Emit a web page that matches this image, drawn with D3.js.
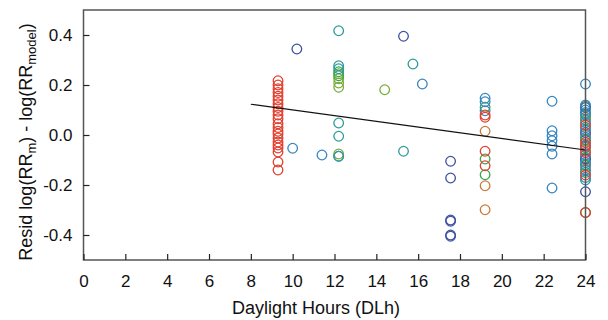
<!DOCTYPE html>
<html><head><meta charset="utf-8">
<script src="https://cdn.jsdelivr.net/npm/d3@7/dist/d3.min.js"></script>
<style>html,body{margin:0;padding:0;background:#fff;}svg{display:block;}</style>
</head><body>
<svg id="c" width="608" height="320"></svg>
<script>
// ---- data ----
const xTicks = [0,2,4,6,8,10,12,14,16,18,20,22,24];
const yTicks = [-0.4,-0.2,0.0,0.2,0.4];
const yTickLabels = ["-0.4","-0.2","0.0","0.2","0.4"];
const xDomain = [0,24];
const yDomain = [-0.5,0.5];

// series: day length (h) and residual
const redX = [9.3,9.3,9.3,9.3,9.3,9.3,9.3,9.3,9.3,9.3,9.3,9.3,9.3,9.3,9.3,9.3,9.3,9.3,9.3,9.3,9.3,9.3, 19.2,19.2,19.2,19.2, 24,24,24,24,24,24];
const redY = [0.217,0.20,0.185,0.17,0.155,0.14,0.125,0.11,0.095,0.08,0.065,0.045,0.03,0.015,0.004,-0.012,-0.028,-0.04,-0.052,-0.068,-0.108,-0.14, 0.08,0.071,-0.065,-0.123, 0.04,-0.03,-0.045,-0.07,-0.16,-0.31];
const blueX = [10.0,11.4,12.2,16.2,19.2,19.2,19.2,22.4,22.4,22.4,22.4,22.4,22.4,22.4,24,24,24,24,24,24,24,24,24,24,24,24];
const blueY = [-0.053,-0.08,-0.085,0.204,0.147,0.133,0.097,0.135,0.017,-0.003,-0.023,-0.045,-0.076,-0.212,0.204,0.12,0.10,0.08,0.05,0.02,-0.01,-0.04,-0.08,-0.11,-0.14,-0.17];
const navyX = [10.2,15.3,17.55,17.55,17.55,17.55,17.55,17.55,24,24,24,24];
const navyY = [0.344,0.395,-0.105,-0.172,-0.34,-0.345,-0.40,-0.405,0.11,0.01,-0.095,-0.227];
const tealX = [12.2,12.2,12.2,12.2,12.2,12.2,15.75,15.3,24,24,24,24,24];
const tealY = [0.417,0.277,0.265,0.048,-0.005,-0.085,0.284,-0.065,0.09,0.03,-0.05,-0.12,-0.18];
const limeX = [12.2,12.2,12.2,12.2,12.2,14.4,24,24,24];
const limeY = [0.245,0.225,0.208,0.191,-0.076,0.181,0.085,-0.02,-0.12];
const greenX = [12.2,12.2,19.2,19.2,19.2,24,24,24,24,24,24];
const greenY = [0.253,0.237,0.111,-0.096,-0.159,0.115,0.06,-0.02,-0.09,-0.15,-0.31];
const orangeX = [19.2,19.2,19.2,24,24,24,24,24];
const orangeY = [0.015,-0.203,-0.299,0.07,0.0,-0.06,-0.10,-0.13];

const fitX = [8,24];
const fitY = [0.123,-0.06];

// ---- chart ----
const series = [
  {x:redX, y:redY, c:"#e2402f"},
  {x:orangeX, y:orangeY, c:"#c97a3b"},
  {x:limeX, y:limeY, c:"#79ad3d"},
  {x:greenX, y:greenY, c:"#3aa64b"},
  {x:tealX, y:tealY, c:"#2d9b9a"},
  {x:navyX, y:navyY, c:"#3d50a0"},
  {x:blueX, y:blueY, c:"#3786c0"}
];

const svg = d3.select("#c");
const L=83.5, R=585.5, T=10, B=260;
const x = d3.scaleLinear().domain(xDomain).range([L,R]);
const y = d3.scaleLinear().domain(yDomain).range([B,T]);
const font = "'Liberation Sans', Arial, Helvetica, sans-serif";

const pts = [];
series.forEach((s,si)=>s.x.forEach((v,i)=>pts.push({x:v,y:s.y[i],c:s.c,k:i*10+si})));
pts.sort((a,b)=>a.k-b.k);

const g = svg.append("g");
g.selectAll("circle").data(pts).join("circle")
  .attr("cx",d=>x(d.x)).attr("cy",d=>y(d.y)).attr("r",4.8)
  .attr("fill","none").attr("stroke",d=>d.c).attr("stroke-width",1.3);

svg.append("line")
  .attr("x1",x(fitX[0])).attr("y1",y(fitY[0]))
  .attr("x2",x(fitX[1])).attr("y2",y(fitY[1]))
  .attr("stroke","#111").attr("stroke-width",1.2);

svg.append("rect").attr("x",L).attr("y",T).attr("width",R-L).attr("height",B-T)
  .attr("fill","none").attr("stroke","#555").attr("stroke-width",1.5);

const xAxis = svg.append("g").attr("transform",`translate(0,${B})`)
  .call(d3.axisBottom(x).tickValues(xTicks).tickSizeInner(-6).tickSizeOuter(0).tickPadding(15).tickFormat(d3.format("d")));
const yAxis = svg.append("g").attr("transform",`translate(${L},0)`)
  .call(d3.axisLeft(y).tickValues(yTicks).tickSizeInner(-6).tickSizeOuter(0).tickPadding(11)
  .tickFormat((d,i)=>yTickLabels[i]));
[xAxis,yAxis].forEach(a=>{
  a.select(".domain").remove();
  a.selectAll("line").attr("stroke","#222").attr("stroke-width",1.2);
  a.selectAll("text").attr("font-family",font).attr("font-size",17).attr("fill","#111");
});

svg.append("text").attr("x",316).attr("y",314).attr("text-anchor","middle")
  .attr("font-family",font).attr("font-size",18).attr("fill","#111").text("Daylight Hours (DLh)");

const yt = svg.append("text").attr("transform","translate(32,142) rotate(-90)")
  .attr("text-anchor","middle").attr("font-family",font).attr("font-size",18).attr("fill","#111");
yt.append("tspan").text("Resid log(RR");
yt.append("tspan").attr("font-size",13).attr("dy",4).text("m");
yt.append("tspan").attr("dy",-4).text(") - log(RR");
yt.append("tspan").attr("font-size",13).attr("dy",4).text("model");
yt.append("tspan").attr("dy",-4).text(")");
</script>
</body></html>
